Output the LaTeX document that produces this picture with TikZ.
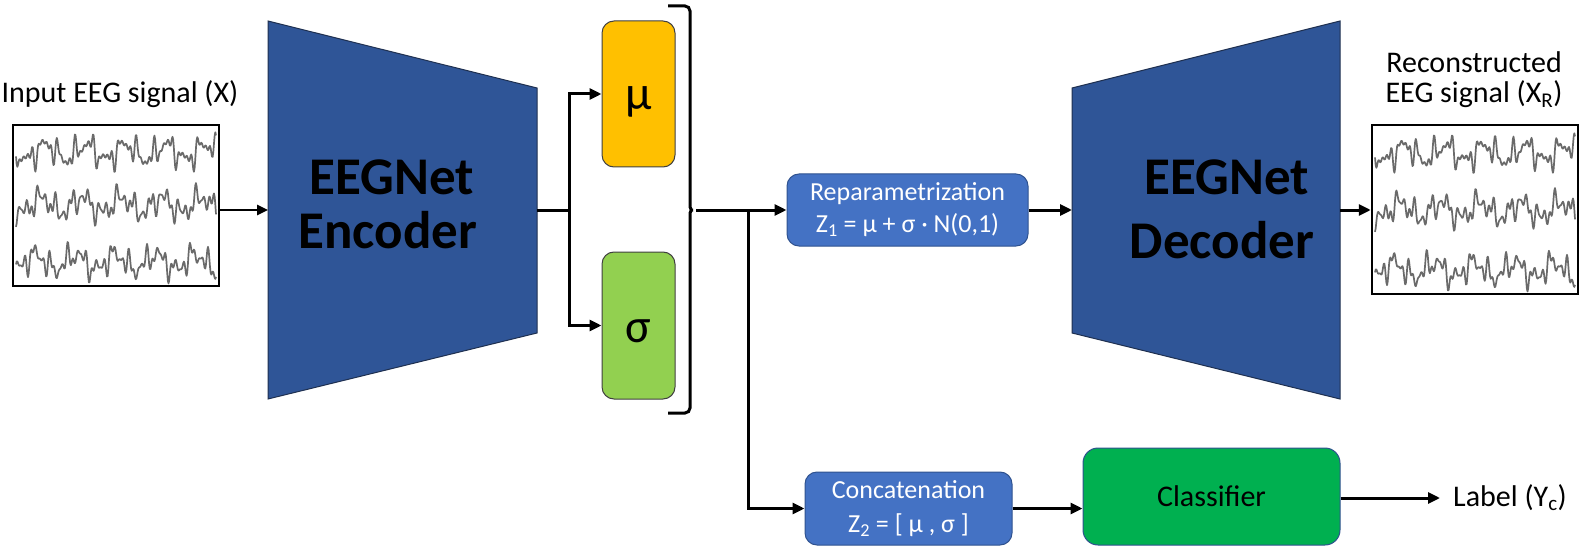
\documentclass[tikz,border=0pt]{standalone}
\usepackage{fontspec}
\setmainfont{Carlito}
\usetikzlibrary{arrows.meta,calc}
\definecolor{trapblue}{HTML}{2F5597}
\definecolor{trapedge}{HTML}{1F3050}
\definecolor{boxblue}{HTML}{4472C4}
\definecolor{boxedge}{HTML}{2F528F}
\definecolor{muyellow}{HTML}{FFC000}
\definecolor{siggreen}{HTML}{92D050}
\definecolor{clsgreen}{HTML}{00B050}
\definecolor{eeggray}{HTML}{6A6A6A}
\tikzset{
  conn/.style={line width=3pt, -{Triangle[length=12pt,width=11pt]}},
  thinconn/.style={line width=2.5pt, -{Triangle[length=11pt,width=10pt]}},
  plainline/.style={line width=3pt},
  trap/.style={fill=trapblue, draw=trapedge, line width=1pt},
  varbox/.style={rounded corners=12pt, draw=black!75, line width=1pt, inner sep=0pt},
  vartext/.style={inner sep=0pt, font=\fontsize{48}{48}\selectfont},
  bluebox/.style={rounded corners=12pt, fill=boxblue, draw=boxedge, line width=1pt, text=white, align=center, inner sep=0pt, font=\fontsize{26}{32}\selectfont},
  sigbox/.style={draw=black, line width=2.5pt, minimum width=206pt, inner sep=0pt},
  eegline/.style={draw=eeggray, line width=1.7pt, line join=round},
  caption/.style={font=\fontsize{30}{30}\selectfont, align=center, inner sep=0pt},
  bigtext/.style={font=\fontsize{53}{53}\selectfont\bfseries, inner sep=0pt, anchor=base},
  bracestyle/.style={line width=3pt, rounded corners=5pt}
}
\newcommand{\eegtrace}[4]{%
  \draw[eegline] plot[domain=0:#3, samples=300]
    ({#1+\x}, {#2 + 7.5*sin(9*\x+#4) + 6*sin(23*\x+2*#4) + 5*sin(41*\x+3*#4) + 4.5*sin(59*\x+#4+20) + 3.8*sin(77*\x+2*#4+50)});
}
\begin{document}
\begin{tikzpicture}[x=1pt,y=-1pt]
\useasboundingbox (0,0) rectangle (1581,548);

% ---------- input signal ----------
\node[caption, anchor=base] (inlab) at (120,103) {Input EEG signal (X)};
\node[sigbox, minimum height=161pt] (inbox) at (116,205.5) {};
\eegtrace{16}{152}{200}{0}
\eegtrace{16}{205}{200}{40}
\eegtrace{16}{262}{200}{95}

% ---------- encoder ----------
\coordinate (encL) at (268,210);
\coordinate (encR) at (537,210);
\path[trap] (268,21) -- (537,88) -- (537,333) -- (268,399) -- cycle;
\node[bigtext] (encA) at (392,195) {EEGNet};
\node[bigtext] (encB) at (388,248) {Encoder};
\draw[thinconn] (inbox.east |- encL) -- (encL);

% ---------- mu / sigma ----------
\node[varbox, fill=muyellow, minimum width=73pt, minimum height=146pt] (mu) at (638.5,94) {};
\node[vartext, anchor=base] (mutext) at (638.5,110) {μ};
\node[varbox, fill=siggreen, minimum width=73pt, minimum height=147pt] (sigma) at (638.5,325.5) {};
\node[vartext, anchor=base] (sigtext) at (638.5,342) {σ};
\coordinate (fork) at (569,210);
\draw[plainline] (encR) -- (fork);
\draw[conn] (fork) |- (mu.west);
\draw[conn] (fork) |- (sigma.west);

% ---------- brace ----------
\coordinate (brtip) at (696,210);
\draw[bracestyle] (668,6) -- (690,6) -- (690,202)
  .. controls (690,208) and (692,210) .. (brtip)
  .. controls (692,210) and (690,212) .. (690,218)
  -- (690,413) -- (668,413);

% ---------- reparametrization ----------
\node[bluebox, minimum width=241pt, minimum height=72pt] (rep) at (907.5,210)
  {Reparametrization\\Z\textsubscript{1} = μ + σ · N(0,1)};
\coordinate (split) at (748,210);
\draw[conn] (brtip) -- (rep.west);

% ---------- decoder ----------
\coordinate (decL) at (1072,210);
\coordinate (decR) at (1340,210);
\path[trap] (1072,88) -- (1340,21) -- (1340,399) -- (1072,333) -- cycle;
\node[bigtext] (decA) at (1227,195) {EEGNet};
\node[bigtext] (decB) at (1222,258) {Decoder};
\draw[conn] (rep.east) -- (decL);

% ---------- output signal ----------
\node[caption] (outlab) at (1474,80) {Reconstructed\\EEG signal (X\textsubscript{R})};
\node[sigbox, minimum height=169pt] (outbox) at (1475,209.5) {};
\eegtrace{1375}{153}{200}{0}
\eegtrace{1375}{210}{200}{40}
\eegtrace{1375}{270}{200}{95}
\draw[conn] (decR) -- (outbox.west |- decR);

% ---------- classification branch ----------
\node[bluebox, minimum width=207pt, minimum height=73pt, font=\fontsize{26}{34}\selectfont] (concat) at (908.5,508.5)
  {Concatenation\\Z\textsubscript{2} = [ μ , σ ]};
\node[bluebox, fill=clsgreen, text=black, rounded corners=15pt, minimum width=257pt, minimum height=97pt,
  font=\fontsize{30}{30}\selectfont] (cls) at (1211.5,496.5) {Classifier};
\node[anchor=west, inner sep=0pt, font=\fontsize{30}{30}\selectfont] (lab) at (1453,498) {Label (Y\textsubscript{c})};
\coordinate (labarr) at (1440,498);
\draw[conn] (split) |- (concat.west);
\draw[conn] (concat.east) -- (concat.east -| cls.west);
\draw[conn] (cls.east |- labarr) -- (labarr);
\end{tikzpicture}
\end{document}
